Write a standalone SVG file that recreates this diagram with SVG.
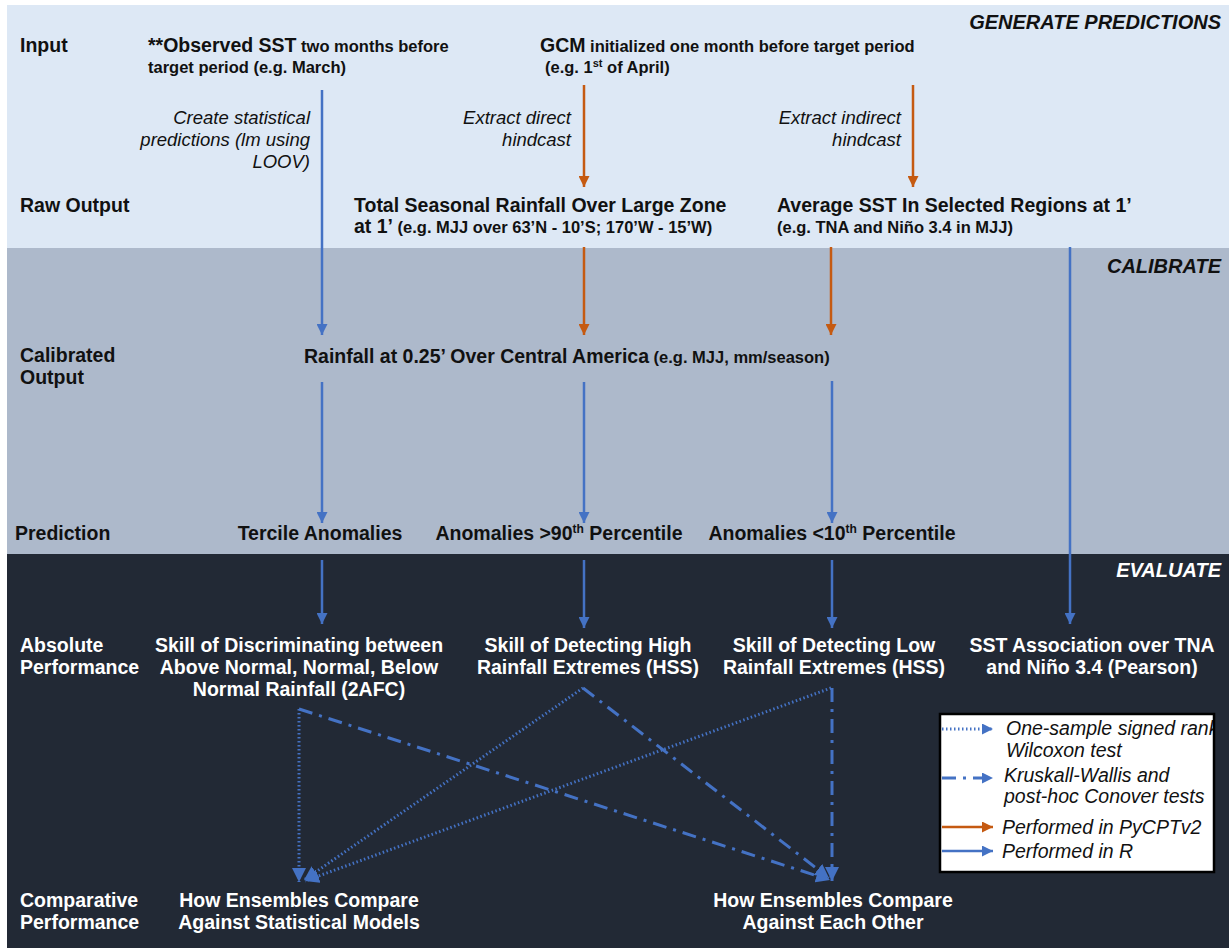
<svg xmlns="http://www.w3.org/2000/svg" width="1232" height="948" viewBox="0 0 1232 948">
<defs>
<style>
text{font-family:"Liberation Sans",Arial,sans-serif;}
.b{font-weight:bold;font-size:19.5px;fill:#111;}
.s{font-weight:bold;font-size:16.5px;fill:#111;}
.it{font-style:italic;font-size:18.5px;fill:#111;}
.hd{font-weight:bold;font-style:italic;font-size:20px;fill:#111;}
.w{fill:#fff;}
.lg{font-style:italic;font-size:19.5px;fill:#111;}
.blue{stroke:#4472c4;stroke-width:2.5;fill:none;}
.orange{stroke:#c55a11;stroke-width:2.5;fill:none;}
.dot{stroke:#4472c4;stroke-width:3;fill:none;stroke-dasharray:1.5 2.5;}
.dd{stroke:#4472c4;stroke-width:3;fill:none;stroke-dasharray:14 7 3 7;}
</style>
<marker id="ab" viewBox="0 0 10 10" refX="10" refY="5" markerWidth="11" markerHeight="11" markerUnits="userSpaceOnUse" orient="auto"><path d="M0,0 L10,5 L0,10z" fill="#4472c4"/></marker>
<marker id="ao" viewBox="0 0 10 10" refX="10" refY="5" markerWidth="11" markerHeight="11" markerUnits="userSpaceOnUse" orient="auto"><path d="M0,0 L10,5 L0,10z" fill="#c55a11"/></marker>
<marker id="abig" viewBox="0 0 10 10" refX="10" refY="5" markerWidth="14" markerHeight="14" markerUnits="userSpaceOnUse" orient="auto"><path d="M0,0 L10,5 L0,10z" fill="#4472c4"/></marker>
<clipPath id="lgclip"><rect x="941" y="715" width="272" height="156"/></clipPath>
</defs>
<rect x="0" y="0" width="1232" height="948" fill="#fff"/>
<g id="bands">
<rect x="7" y="5" width="1222" height="243" fill="#dde8f5"/>
<rect x="7" y="248" width="1222" height="306" fill="#adb9cb"/>
<rect x="7" y="554" width="1222" height="394" fill="#222935"/>
</g>
<g id="section-titles">
<text class="hd" x="1221" y="29" text-anchor="end">GENERATE PREDICTIONS</text>
<text class="hd" x="1221" y="273" text-anchor="end">CALIBRATE</text>
<text class="hd w" x="1221" y="577" text-anchor="end">EVALUATE</text>
</g>
<g id="row-labels">
<text class="b" x="20" y="52">Input</text>
<text class="b" x="20" y="212">Raw Output</text>
<text class="b" x="20" y="362">Calibrated</text>
<text class="b" x="20" y="384">Output</text>
<text class="b" x="15" y="540">Prediction</text>
<text class="b w" x="20" y="652">Absolute</text>
<text class="b w" x="20" y="674">Performance</text>
<text class="b w" x="20" y="907">Comparative</text>
<text class="b w" x="20" y="929">Performance</text>
</g>
<g id="connectors">
<line class="blue" x1="322" y1="90" x2="322" y2="335" marker-end="url(#ab)"/>
<line class="orange" x1="584" y1="85" x2="584" y2="187" marker-end="url(#ao)"/>
<line class="orange" x1="913" y1="85" x2="913" y2="187" marker-end="url(#ao)"/>
<line class="orange" x1="584" y1="247" x2="584" y2="335" marker-end="url(#ao)"/>
<line class="orange" x1="831" y1="247" x2="831" y2="335" marker-end="url(#ao)"/>
<line class="blue" x1="1070" y1="247" x2="1070" y2="624" marker-end="url(#ab)"/>
<line class="blue" x1="322" y1="382" x2="322" y2="523" marker-end="url(#ab)"/>
<line class="blue" x1="584" y1="382" x2="584" y2="523" marker-end="url(#ab)"/>
<line class="blue" x1="832" y1="381" x2="832" y2="523" marker-end="url(#ab)"/>
<line class="blue" x1="322" y1="560" x2="322" y2="624" marker-end="url(#ab)"/>
<line class="blue" x1="584" y1="560" x2="584" y2="628" marker-end="url(#ab)"/>
<line class="blue" x1="832" y1="560" x2="832" y2="628" marker-end="url(#ab)"/>
<line class="dot" x1="299" y1="709" x2="299" y2="882" marker-end="url(#abig)"/>
<line class="dot" x1="583" y1="688" x2="304" y2="880" marker-end="url(#abig)"/>
<line class="dot" x1="831" y1="688" x2="305" y2="881" marker-end="url(#abig)"/>
<line class="dd" x1="299" y1="709" x2="830" y2="880" marker-end="url(#abig)"/>
<line class="dd" x1="583" y1="688" x2="829" y2="878" marker-end="url(#abig)"/>
<line class="dd" x1="832" y1="688" x2="832" y2="881" marker-end="url(#abig)"/>
</g>
<g id="observed-sst">
<text class="b" x="148" y="52">**Observed SST<tspan style="font-size:16.5px"> two months before</tspan></text>
<text class="s" x="148" y="73">target period (e.g. March)</text>
</g>
<g id="gcm">
<text class="b" x="540" y="52">GCM<tspan style="font-size:16.5px"> initialized one month before target period</tspan></text>
<text class="s" x="545" y="73">(e.g. 1<tspan style="font-size:11px" baseline-shift="super">st</tspan> of April)</text>
</g>
<g id="label-statistical">
<text class="it" x="310" y="124" text-anchor="end">Create statistical</text>
<text class="it" x="310" y="146" text-anchor="end">predictions (lm using</text>
<text class="it" x="310" y="168" text-anchor="end">LOOV)</text>
</g>
<g id="label-direct">
<text class="it" x="571" y="124" text-anchor="end">Extract direct</text>
<text class="it" x="571" y="146" text-anchor="end">hindcast</text>
</g>
<g id="label-indirect">
<text class="it" x="901" y="124" text-anchor="end">Extract indirect</text>
<text class="it" x="901" y="146" text-anchor="end">hindcast</text>
</g>
<g id="total-rainfall">
<text class="b" x="354" y="212">Total Seasonal Rainfall Over Large Zone</text>
<text class="b" x="354" y="233">at 1’<tspan style="font-size:16.5px"> (e.g. MJJ over 63’N - 10’S; 170’W - 15’W)</tspan></text>
</g>
<g id="average-sst">
<text class="b" x="777" y="212">Average SST In Selected Regions at 1’</text>
<text class="s" x="777" y="233">(e.g. TNA and Niño 3.4 in MJJ)</text>
</g>
<g id="calibrated-rainfall">
<text class="b" x="304" y="363">Rainfall at 0.25’ Over Central America<tspan style="font-size:16.5px"> (e.g. MJJ, mm/season)</tspan></text>
</g>
<g id="tercile">
<text class="b" x="320" y="540" text-anchor="middle">Tercile Anomalies</text>
</g>
<g id="above90">
<text class="b" x="559" y="540" text-anchor="middle">Anomalies &gt;90<tspan style="font-size:12px" baseline-shift="super">th</tspan> Percentile</text>
</g>
<g id="below10">
<text class="b" x="832" y="540" text-anchor="middle">Anomalies &lt;10<tspan style="font-size:12px" baseline-shift="super">th</tspan> Percentile</text>
</g>
<g id="skill-2afc">
<text class="b w" x="299" y="652" text-anchor="middle">Skill of Discriminating between</text>
<text class="b w" x="299" y="674" text-anchor="middle">Above Normal, Normal, Below</text>
<text class="b w" x="299" y="696" text-anchor="middle">Normal Rainfall (2AFC)</text>
</g>
<g id="skill-high">
<text class="b w" x="588" y="652" text-anchor="middle">Skill of Detecting High</text>
<text class="b w" x="588" y="674" text-anchor="middle">Rainfall Extremes (HSS)</text>
</g>
<g id="skill-low">
<text class="b w" x="834" y="652" text-anchor="middle">Skill of Detecting Low</text>
<text class="b w" x="834" y="674" text-anchor="middle">Rainfall Extremes (HSS)</text>
</g>
<g id="sst-association">
<text class="b w" x="1092" y="652" text-anchor="middle">SST Association over TNA</text>
<text class="b w" x="1092" y="674" text-anchor="middle">and Niño 3.4 (Pearson)</text>
</g>
<g id="compare-statistical">
<text class="b w" x="299" y="907" text-anchor="middle">How Ensembles Compare</text>
<text class="b w" x="299" y="929" text-anchor="middle">Against Statistical Models</text>
</g>
<g id="compare-each-other">
<text class="b w" x="833" y="907" text-anchor="middle">How Ensembles Compare</text>
<text class="b w" x="833" y="929" text-anchor="middle">Against Each Other</text>
</g>
<g id="legend">
<rect x="940" y="714" width="274" height="158" fill="#fff" stroke="#000" stroke-width="2.5"/>
<g clip-path="url(#lgclip)">
<line class="dot" x1="942" y1="729" x2="993" y2="729" stroke-width="2.5" marker-end="url(#ab)"/>
<line class="dd" x1="942" y1="778" x2="993" y2="778" stroke-dasharray="16 7 3 7" marker-end="url(#ab)"/>
<line class="orange" x1="942" y1="827" x2="993" y2="827" stroke-width="3" marker-end="url(#ao)"/>
<line class="blue" x1="942" y1="851" x2="993" y2="851" stroke-width="3" marker-end="url(#ab)"/>
<text class="lg" x="1006" y="735">One-sample signed rank</text>
<text class="lg" x="1006" y="757">Wilcoxon test</text>
<text class="lg" x="1004" y="782">Kruskall-Wallis and</text>
<text class="lg" x="1004" y="803">post-hoc Conover tests</text>
<text class="lg" x="1002" y="834">Performed in PyCPTv2</text>
<text class="lg" x="1002" y="858">Performed in R</text>
</g>
</g>
</svg>
